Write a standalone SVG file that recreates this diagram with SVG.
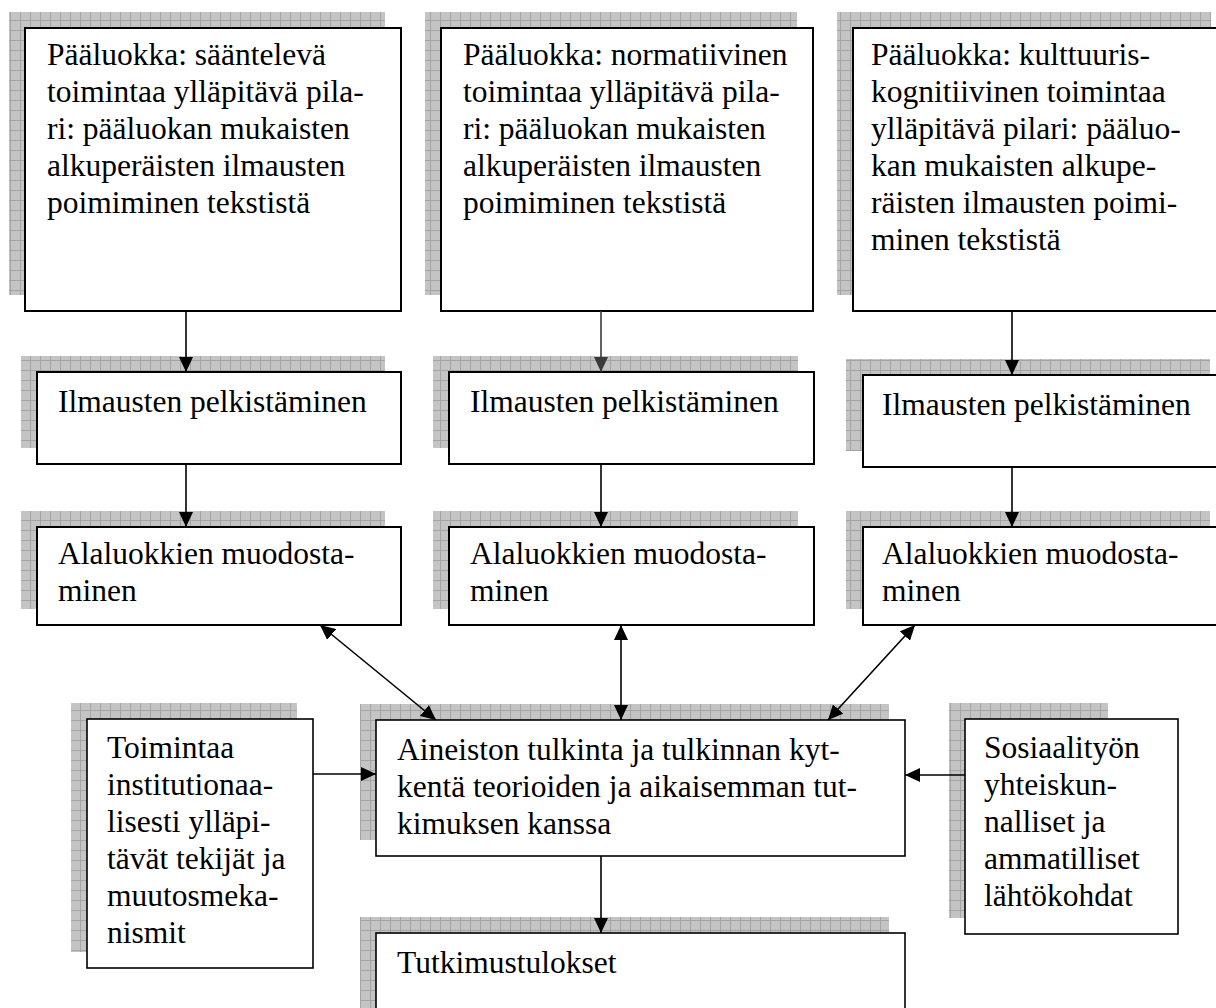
<svg xmlns="http://www.w3.org/2000/svg" width="1216" height="1008" viewBox="0 0 1216 1008">
<style>
.sh{fill:url(#grid)}
.bx{fill:#fff;stroke:#000;stroke-width:2}
.bx2{fill:#fff;stroke:#000;stroke-width:1.6}
text{font-size:31.5px;fill:#000}
.c{fill:none;stroke:#000;stroke-width:1.6}
</style>
<defs>
<pattern id="grid" width="10" height="10" patternUnits="userSpaceOnUse">
<rect width="10" height="10" fill="#c4c4c4"/>
<path d="M0,0.5H10M0.5,0V10" stroke="#a4a4a4" stroke-width="1"/>
</pattern>
<marker id="ah" markerWidth="15" markerHeight="14" refX="15" refY="7" orient="auto-start-reverse" markerUnits="userSpaceOnUse">
<path d="M0,0L15,7L0,14z" fill="#000"/>
</marker>
<marker id="ahg" markerWidth="15" markerHeight="14" refX="15" refY="7" orient="auto" markerUnits="userSpaceOnUse">
<path d="M0,0L15,7L0,14z" fill="#3a3a3a"/>
</marker>
</defs>
<rect width="1216" height="1008" fill="#fff"/>

<g font-family="'Liberation Serif', Tinos, 'Times New Roman', 'DejaVu Serif', serif">
<g id="p1">
<rect class="sh" x="9" y="12" width="376" height="283"/>
<rect class="bx" x="25" y="28" width="376" height="283"/>
<text x="47" y="65">Pääluokka: sääntelevä</text>
<text x="47" y="102">toimintaa ylläpitävä pila-</text>
<text x="47" y="139">ri: pääluokan mukaisten</text>
<text x="47" y="176">alkuperäisten ilmausten</text>
<text x="47" y="213">poimiminen tekstistä</text>
</g>
<g id="p2">
<rect class="sh" x="425" y="12" width="372" height="283"/>
<rect class="bx" x="441" y="28" width="372" height="283"/>
<text x="463" y="65">Pääluokka: normatiivinen</text>
<text x="463" y="102">toimintaa ylläpitävä pila-</text>
<text x="463" y="139">ri: pääluokan mukaisten</text>
<text x="463" y="176">alkuperäisten ilmausten</text>
<text x="463" y="213">poimiminen tekstistä</text>
</g>
<g id="p3">
<rect class="sh" x="837" y="12" width="374" height="283"/>
<rect class="bx" x="853" y="28" width="374" height="283"/>
<text x="871" y="65">Pääluokka: kulttuuris-</text>
<text x="871" y="102">kognitiivinen toimintaa</text>
<text x="871" y="139">ylläpitävä pilari: pääluo-</text>
<text x="871" y="176">kan mukaisten alkupe-</text>
<text x="871" y="213">räisten ilmausten poimi-</text>
<text x="871" y="250">minen tekstistä</text>
</g>

<g id="i1">
<rect class="sh" x="21" y="356" width="364" height="92"/>
<rect class="bx" x="37" y="372" width="364" height="92"/>
<text x="58" y="412">Ilmausten pelkistäminen</text>
</g>
<g id="i2">
<rect class="sh" x="433" y="356" width="365" height="92"/>
<rect class="bx" x="449" y="372" width="365" height="92"/>
<text x="470" y="412">Ilmausten pelkistäminen</text>
</g>
<g id="i3">
<rect class="sh" x="846" y="359" width="364" height="92"/>
<rect class="bx" x="863" y="375" width="364" height="92"/>
<text x="882" y="415">Ilmausten pelkistäminen</text>
</g>

<g id="a1">
<rect class="sh" x="21" y="511" width="364" height="98"/>
<rect class="bx" x="37" y="527" width="364" height="98"/>
<text x="58" y="564">Alaluokkien muodosta-</text>
<text x="58" y="601">minen</text>
</g>
<g id="a2">
<rect class="sh" x="433" y="511" width="365" height="98"/>
<rect class="bx" x="449" y="527" width="365" height="98"/>
<text x="470" y="564">Alaluokkien muodosta-</text>
<text x="470" y="601">minen</text>
</g>
<g id="a3">
<rect class="sh" x="846" y="511" width="364" height="98"/>
<rect class="bx" x="863" y="527" width="364" height="98"/>
<text x="882" y="564">Alaluokkien muodosta-</text>
<text x="882" y="601">minen</text>
</g>

<g id="toim">
<rect class="sh" x="71" y="703" width="226" height="249"/>
<rect class="bx2" x="87" y="719" width="226" height="249"/>
<text x="107" y="758">Toimintaa</text>
<text x="107" y="795">institutionaa-</text>
<text x="107" y="832">lisesti ylläpi-</text>
<text x="107" y="869">tävät tekijät ja</text>
<text x="107" y="906">muutosmeka-</text>
<text x="107" y="943">nismit</text>
</g>
<g id="ain">
<rect class="sh" x="360" y="704" width="529" height="136"/>
<rect class="bx2" x="376" y="720" width="529" height="136"/>
<text x="397" y="760">Aineiston tulkinta ja tulkinnan kyt-</text>
<text x="397" y="797">kentä teorioiden ja aikaisemman tut-</text>
<text x="397" y="834">kimuksen kanssa</text>
</g>
<g id="sos">
<rect class="sh" x="949" y="703" width="159" height="215"/>
<rect class="bx2" x="965" y="719" width="213" height="215"/>
<text x="984" y="758">Sosiaalityön</text>
<text x="984" y="795">yhteiskun-</text>
<text x="984" y="832">nalliset ja</text>
<text x="984" y="869">ammatilliset</text>
<text x="984" y="906">lähtökohdat</text>
</g>
<g id="tut">
<rect class="sh" x="360" y="917" width="529" height="120"/>
<rect class="bx2" x="376" y="933" width="529" height="120"/>
<text x="397" y="973">Tutkimustulokset</text>
</g>
</g>

<g id="connectors">
<path class="c" d="M186,311V372" marker-end="url(#ah)"/>
<path class="c" d="M601,311V372" style="stroke:#3a3a3a" marker-end="url(#ahg)"/>
<path class="c" d="M1012,311V375" marker-end="url(#ah)"/>
<path class="c" d="M186,464V527" marker-end="url(#ah)"/>
<path class="c" d="M601,464V527" marker-end="url(#ah)"/>
<path class="c" d="M1012,467V527" marker-end="url(#ah)"/>
<path class="c" d="M320,625L436,720" marker-start="url(#ah)" marker-end="url(#ah)"/>
<path class="c" d="M621,625V720" marker-start="url(#ah)" marker-end="url(#ah)"/>
<path class="c" d="M915,625L828,720" marker-start="url(#ah)" marker-end="url(#ah)"/>
<path class="c" d="M313,774H376" marker-end="url(#ah)"/>
<path class="c" d="M965,775H905" marker-end="url(#ah)"/>
<path class="c" d="M601,856V933" marker-end="url(#ah)"/>
</g>
</svg>
